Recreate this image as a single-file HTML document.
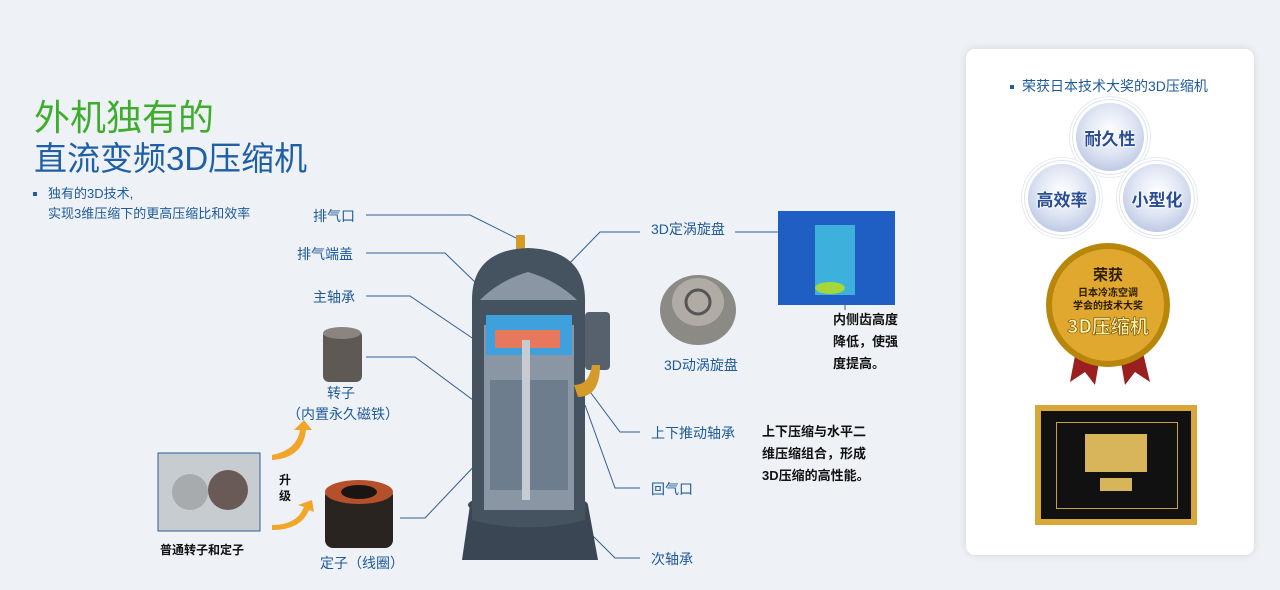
<!DOCTYPE html>
<html><head><meta charset="utf-8"><style>
body{margin:0;width:1280px;height:590px;background:#eef1f5;position:relative;overflow:hidden;font-family:"Liberation Sans","Noto Sans CJK SC",sans-serif}
.a{position:absolute;white-space:nowrap}
.lb{color:#1f5a9a;font-size:14px}
.bk{color:#111;font-size:13px;font-weight:bold;line-height:22px}
.card{position:absolute;left:966px;top:49px;width:288px;height:506px;background:#fff;border-radius:9px;box-shadow:0 0 8px rgba(0,0,0,.12)}
.circ{position:absolute;width:68px;height:68px;border-radius:50%;background:radial-gradient(circle at 50% 40%,#fff 0%,#dfe5f3 45%,#a9b6dc 100%);box-shadow:0 0 0 3px #fff,0 0 0 4px #dde3ef,0 0 0 6px #fff,0 0 0 7px #e6eaf3;display:flex;align-items:center;justify-content:center;font-weight:bold;font-size:17px;color:#2a4d96;text-shadow:0 0 2px #fff,0 0 2px #fff,0 0 2px #fff}
</style></head><body>
<div class="a" style="left:34px;top:96px;font-size:36px;color:#3dae2b;line-height:44px">外机独有的</div>
<div class="a" style="left:34px;top:137px;font-size:33px;color:#1f5fa5;line-height:44px">直流变频3D压缩机</div>
<div class="a" style="left:33px;top:192px;width:4px;height:4px;background:#1f5fa5"></div>
<div class="a lb" style="left:48px;top:184px;font-size:13px;line-height:20px">独有的3D技术,<br>实现3维压缩下的更高压缩比和效率</div>

<svg class="a" style="left:0;top:0" width="960" height="590">
<g stroke="#2f5e95" stroke-width="1" fill="none">
<polyline points="366,215 470,215 520,240"/>
<polyline points="366,253 445,253 478,285"/>
<polyline points="366,296 410,296 490,350"/>
<polyline points="366,357 415,357 500,420"/>
<polyline points="400,518 425,518 480,460"/>
<polyline points="640,232 600,232 565,268"/>
<polyline points="735,232 778,232"/>
<polyline points="845,290 845,310"/>
<polyline points="640,432 620,432 585,385"/>
<polyline points="640,488 615,488 585,405"/>
<polyline points="640,558 615,558 582,525"/>
</g>
<rect x="516" y="235" width="9" height="22" fill="#d49a2a"/>
<path d="M462,560 L470,505 L588,505 L598,560 Z" fill="#3a4653"/>
<ellipse cx="528" cy="505" rx="60" ry="12" fill="#3d4a58"/>
<path d="M472,300 Q472,250 528,248 Q585,250 585,300 L585,520 Q528,535 472,520 Z" fill="#45525f"/>
<path d="M480,300 Q500,280 528,272 Q556,280 577,300 Z" fill="#8a96a3"/>
<rect x="585" y="312" width="25" height="58" rx="4" fill="#56616d"/>
<rect x="484" y="325" width="90" height="185" fill="#8a96a3"/>
<rect x="490" y="380" width="78" height="110" fill="#6e7d8e"/>
<path d="M486,315 L572,315 L572,355 L486,355 Z" fill="#3fa0de"/>
<path d="M495,330 h65 v18 h-65z" fill="#e8785c"/>
<rect x="522" y="340" width="8" height="160" fill="#c7ccd3"/>
<path d="M574,385 q15,0 18,-20 l8,0 q0,32 -22,32 z" fill="#d49a2a"/>
<rect x="778" y="211" width="117" height="94" fill="#1f5fc4"/>
<rect x="815" y="225" width="40" height="70" fill="#3db0dc"/>
<ellipse cx="830" cy="288" rx="15" ry="6" fill="#a4d83a"/>
<ellipse cx="698" cy="310" rx="38" ry="35" fill="#8c8a85"/>
<ellipse cx="698" cy="302" rx="26" ry="24" fill="#b0aca5"/>
<circle cx="698" cy="302" r="12" fill="none" stroke="#555" stroke-width="3"/>
<rect x="323" y="330" width="39" height="52" rx="6" fill="#5e5954"/>
<ellipse cx="342" cy="333" rx="19" ry="6" fill="#8a8580"/>
<rect x="325" y="488" width="68" height="60" rx="8" fill="#2a2420"/>
<ellipse cx="359" cy="492" rx="34" ry="12" fill="#b5502a"/>
<ellipse cx="359" cy="492" rx="18" ry="7" fill="#1a1512"/>
<rect x="158" y="453" width="102" height="78" fill="#c7ccd0" stroke="#2f5e95"/>
<circle cx="190" cy="492" r="18" fill="#a8abad"/>
<circle cx="228" cy="490" r="20" fill="#6a5a55"/>
<path d="M272,455 q25,-5 28,-25 l-6,0 l10,-10 l8,10 l-6,0 q-3,28 -34,30z" fill="#f3a52a"/>
<path d="M272,525 q25,0 32,-18 l-6,-2 l14,-5 l2,12 l-5,-2 q-8,20 -37,20z" fill="#f3a52a"/>
</svg>

<div class="a lb" style="left:313px;top:206px">排气口</div>
<div class="a lb" style="left:297px;top:244px">排气端盖</div>
<div class="a lb" style="left:313px;top:287px">主轴承</div>
<div class="a lb" style="left:327px;top:383px">转子</div>
<div class="a lb" style="left:287px;top:404px">（内置永久磁铁）</div>
<div class="a lb" style="left:320px;top:553px">定子（线圈）</div>
<div class="a" style="left:160px;top:541px;font-size:12px;font-weight:bold;color:#111">普通转子和定子</div>
<div class="a" style="left:279px;top:472px;font-size:12px;font-weight:bold;color:#111;line-height:16px">升<br>级</div>
<div class="a lb" style="left:651px;top:219px">3D定涡旋盘</div>
<div class="a lb" style="left:664px;top:355px">3D动涡旋盘</div>
<div class="a lb" style="left:651px;top:423px">上下推动轴承</div>
<div class="a lb" style="left:651px;top:479px">回气口</div>
<div class="a lb" style="left:651px;top:549px">次轴承</div>
<div class="a bk" style="left:833px;top:309px">内侧齿高度<br>降低，使强<br>度提高。</div>
<div class="a bk" style="left:762px;top:421px">上下压缩与水平二<br>维压缩组合，形成<br>3D压缩的高性能。</div>

<div class="card"></div>
<div class="a" style="left:1010px;top:85px;width:4px;height:4px;background:#1f5fa5"></div>
<div class="a lb" style="left:1022px;top:76px;font-size:14px">荣获日本技术大奖的3D压缩机</div>
<div class="circ" style="left:1076px;top:103px">耐久性</div>
<div class="circ" style="left:1028px;top:164px">高效率</div>
<div class="circ" style="left:1123px;top:164px">小型化</div>
<svg class="a" style="left:1040px;top:240px" width="140" height="150">
<path d="M38,100 L30,142 L45,132 L55,145 L62,105Z M78,105 L85,145 L95,132 L110,142 L100,100Z" fill="#9a2020"/>
<circle cx="68" cy="65" r="62" fill="#b8860b"/>
<circle cx="68" cy="65" r="56" fill="#e0a82e"/>
<text x="68" y="40" text-anchor="middle" font-size="15" font-weight="bold" fill="#2a1a00" font-family="Noto Sans CJK SC">荣获</text>
<text x="68" y="56" text-anchor="middle" font-size="10" font-weight="bold" fill="#2a1a00" font-family="Noto Sans CJK SC">日本冷冻空调</text>
<text x="68" y="69" text-anchor="middle" font-size="10" font-weight="bold" fill="#2a1a00" font-family="Noto Sans CJK SC">学会的技术大奖</text>
<text x="68" y="93" text-anchor="middle" font-size="19" font-weight="bold" fill="#fff3b0" stroke="#6a4a00" stroke-width=".6" font-family="Noto Sans CJK SC">3D压缩机</text>
</svg>
<div class="a" style="left:1035px;top:405px;width:162px;height:120px;background:#d9a63a"></div>
<div class="a" style="left:1041px;top:411px;width:150px;height:108px;background:#111"></div>
<div class="a" style="left:1056px;top:422px;width:120px;height:85px;border:1px solid #c8a040"></div>
<div class="a" style="left:1085px;top:434px;width:62px;height:38px;background:#d8b55a"></div>
<div class="a" style="left:1100px;top:478px;width:32px;height:13px;background:#d8b55a"></div>
</body></html>
